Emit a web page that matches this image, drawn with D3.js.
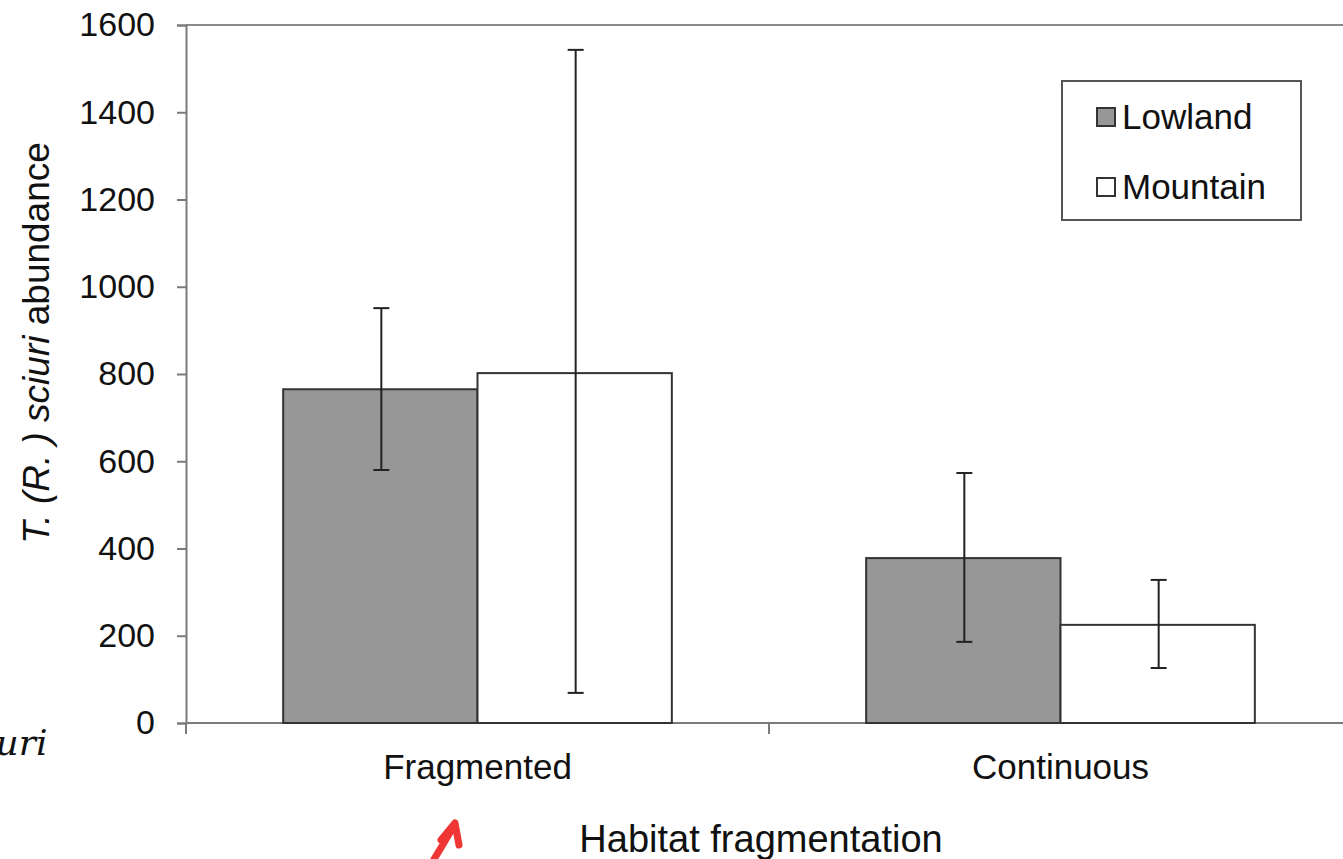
<!DOCTYPE html>
<html>
<head>
<meta charset="utf-8">
<script src="https://cdn.jsdelivr.net/npm/d3@7"></script>
<style>
  html, body { margin: 0; padding: 0; background: #fff; }
  svg { display: block; }
</style>
</head>
<body>
<svg id="chart" width="1343" height="859"></svg>
<script>
const categories = ["Fragmented", "Continuous"];
const series = ["Lowland", "Mountain"];
const lowlandMean = [765, 378];
const lowlandLow = [580, 186];
const lowlandHigh = [951, 573];
const mountainMean = [802, 225];
const mountainLow = [69, 126];
const mountainHigh = [1543, 328];
const yTicks = [0, 200, 400, 600, 800, 1000, 1200, 1400, 1600];
const seriesFill = ["#979797", "#ffffff"];

(function () {
const svg = d3.select("#chart");
const font = "'Liberation Sans', Arial, sans-serif";

const mLeft = 186, mRight = 1352, mTop = 25, mBottom = 723;
const y = d3.scaleLinear().domain([0, 1600]).range([mBottom, mTop]);
const x0 = d3.scaleBand().domain(categories).range([mLeft, mRight]).padding(0);
const x1 = d3.scaleBand().domain(series).range([0, x0.bandwidth()]).paddingInner(0).paddingOuter(0.5);

const data = categories.map((c, i) => ({
  cat: c,
  vals: [
    { s: "Lowland", mean: lowlandMean[i], lo: lowlandLow[i], hi: lowlandHigh[i], fill: seriesFill[0] },
    { s: "Mountain", mean: mountainMean[i], lo: mountainLow[i], hi: mountainHigh[i], fill: seriesFill[1] }
  ]
}));

// top frame line
svg.append("line").attr("x1", mLeft).attr("x2", 1343).attr("y1", y(1600)).attr("y2", y(1600))
  .attr("stroke", "#8a8a8a").attr("stroke-width", 2);

// y axis
const yAxis = svg.append("g").attr("transform", `translate(${mLeft},0)`)
  .call(d3.axisLeft(y).tickValues(yTicks).tickSize(9).tickPadding(22).tickFormat(d3.format("d")));
yAxis.selectAll("path, line").attr("stroke", "#7a7a7a").attr("stroke-width", 2);
yAxis.selectAll("text").attr("font-family", font).attr("font-size", 34).attr("fill", "#111");

// x axis baseline
svg.append("line").attr("x1", mLeft).attr("x2", 1343).attr("y1", mBottom).attr("y2", mBottom)
  .attr("stroke", "#7a7a7a").attr("stroke-width", 2);
// category boundary ticks
const bounds = categories.map(c => x0(c)).concat([mRight]);
svg.selectAll(".xtick").data(bounds).enter().append("line")
  .attr("x1", d => d).attr("x2", d => d).attr("y1", mBottom).attr("y2", mBottom + 11)
  .attr("stroke", "#7a7a7a").attr("stroke-width", 2);

// bars
const groups = svg.selectAll(".grp").data(data).enter().append("g")
  .attr("transform", d => `translate(${x0(d.cat)},0)`);
groups.selectAll("rect").data(d => d.vals).enter().append("rect")
  .attr("x", d => x1(d.s)).attr("width", x1.bandwidth())
  .attr("y", d => y(d.mean)).attr("height", d => y(0) - y(d.mean))
  .attr("fill", d => d.fill).attr("stroke", "#333").attr("stroke-width", 2);

// error bars
const cap = 8;
groups.each(function(d) {
  const g = d3.select(this);
  d.vals.forEach(v => {
    const cx = x1(v.s) + x1.bandwidth() / 2 + 1;
    g.append("line").attr("x1", cx).attr("x2", cx).attr("y1", y(v.hi)).attr("y2", y(v.lo))
      .attr("stroke", "#222").attr("stroke-width", 2);
    [v.hi, v.lo].forEach(e => g.append("line").attr("x1", cx - cap).attr("x2", cx + cap)
      .attr("y1", y(e)).attr("y2", y(e)).attr("stroke", "#222").attr("stroke-width", 2));
  });
});

// category labels
svg.selectAll(".clab").data(categories).enter().append("text")
  .attr("x", d => x0(d) + x0.bandwidth() / 2).attr("y", 779)
  .attr("text-anchor", "middle").attr("font-family", font).attr("font-size", 35).attr("fill", "#111")
  .text(d => d);

// x title
svg.append("text").attr("x", 761).attr("y", 852).attr("text-anchor", "middle")
  .attr("font-family", font).attr("font-size", 38).attr("fill", "#111").text("Habitat fragmentation");

// y title
const yt = svg.append("text").attr("transform", "translate(49,343) rotate(-90)")
  .attr("text-anchor", "middle").attr("font-family", font).attr("font-size", 37).attr("fill", "#111");
yt.append("tspan").attr("font-style", "italic").text("T. (R. ) sciuri");
yt.append("tspan").text(" abundance");

// legend
const lg = svg.append("g");
lg.append("rect").attr("x", 1062).attr("y", 81).attr("width", 239).attr("height", 139)
  .attr("fill", "#fff").attr("stroke", "#555").attr("stroke-width", 2);
series.forEach((s, i) => {
  const yy = 117 + i * 70;
  lg.append("rect").attr("x", 1097).attr("y", yy - 9).attr("width", 18).attr("height", 18)
    .attr("fill", seriesFill[i]).attr("stroke", "#333").attr("stroke-width", 2);
  lg.append("text").attr("x", 1122).attr("y", yy + 12).attr("font-family", font).attr("font-size", 35)
    .attr("fill", "#111").text(s);
});

// cropped artifacts from source image
svg.append("text").attr("x", -16).attr("y", 755).attr("font-family", "'DejaVu Serif', serif")
  .attr("font-style", "italic").attr("font-size", 36).attr("fill", "#111").text("iuri");
svg.append("path").attr("d", "M430,866 L454,826 M441,840 L455,823 L459,845")
  .attr("fill", "none").attr("stroke", "#f03535").attr("stroke-width", 7).attr("stroke-linecap", "round").attr("stroke-linejoin", "round");
})();
</script>
</body>
</html>
